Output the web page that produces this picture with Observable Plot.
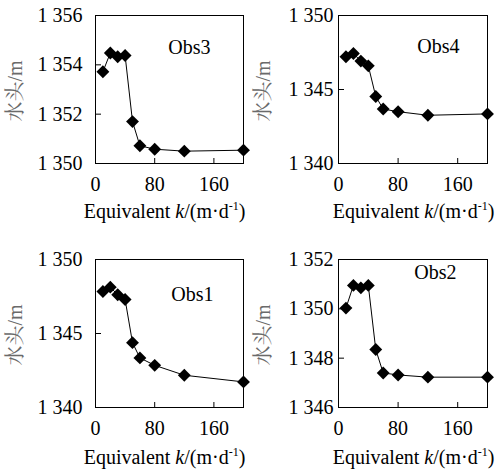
<!DOCTYPE html>
<html><head><meta charset="utf-8">
<script src="https://cdn.jsdelivr.net/npm/d3@7"></script>
<script src="https://cdn.jsdelivr.net/npm/@observablehq/plot@0.6"></script>
<style>
body{margin:0;background:#fff;}
#chart{position:relative;width:502px;height:469px;background:#fff;}
#chart svg{position:absolute;overflow:visible;}
</style></head><body><div id="chart"></div>
<script>
// ---- data ----
const kValues = [10, 20, 30, 40, 50, 60, 80, 120, 200];
const obs3 = [1353.72, 1354.48, 1354.33, 1354.38, 1351.7, 1350.72, 1350.58, 1350.5, 1350.54];
const obs4 = [1347.21, 1347.43, 1346.92, 1346.6, 1344.53, 1343.68, 1343.5, 1343.26, 1343.35];
const obs1 = [1347.84, 1348.13, 1347.62, 1347.3, 1344.38, 1343.35, 1342.85, 1342.18, 1341.73];
const obs2 = [1350.03, 1350.95, 1350.85, 1350.95, 1348.35, 1347.4, 1347.32, 1347.23, 1347.23];
const xTicks = [0, 80, 160];
const yTicks3 = [1350, 1352, 1354, 1356];
const yTicks4 = [1340, 1345, 1350];
const yTicks1 = [1340, 1345, 1350];
const yTicks2 = [1346, 1348, 1350, 1352];
const panelNames = ["Obs3", "Obs4", "Obs1", "Obs2"];
const yLabel = "水头/m";
const xLabelParts = ["Equivalent ", "k", "/(m·d", "-1", ")"];

// ---- layout ----
const serif = "'Liberation Serif', serif";
const cjkSerif = "'Liberation Serif', 'Noto Serif CJK SC', 'Noto Sans CJK SC', serif";
const fmt = d => d3.format(",")(d).replace(/,/g, " ");

const panels = [
  {name: panelNames[0], values: obs3, yTicks: yTicks3, left: 0,   top: 0,   mL: 95, mR: 8,  mT: 15, mB: 71, yPad: 19, nDx: -33, nDy: 32, ylx: 15, xlx: 164.5, xly: 218},
  {name: panelNames[1], values: obs4, yTicks: yTicks4, left: 251, top: 0,   mL: 87, mR: 15, mT: 15, mB: 71, yPad: 11, nDx: -28, nDy: 31, ylx: 12, xlx: 162.5, xly: 218},
  {name: panelNames[2], values: obs1, yTicks: yTicks1, left: 0,   top: 235, mL: 95, mR: 8,  mT: 24, mB: 62, yPad: 19, nDx: -30, nDy: 35, ylx: 15, xlx: 164.5, xly: 229},
  {name: panelNames[3], values: obs2, yTicks: yTicks2, left: 251, top: 235, mL: 87, mR: 15, mT: 24, mB: 62, yPad: 11, nDx: -31, nDy: 13.5, ylx: 12, xlx: 162.5, xly: 229}
];

const root = document.getElementById("chart");
for (const p of panels) {
  const data = kValues.map((k, i) => ({k, h: p.values[i]}));
  const W = 251, H = 234;
  const svgEl = Plot.plot({
    width: W, height: H,
    marginLeft: p.mL, marginRight: p.mR, marginTop: p.mT, marginBottom: p.mB,
    style: {fontFamily: serif, fontSize: "20px", color: "#000", background: "transparent"},
    x: {domain: [0, 200]},
    y: {domain: [p.yTicks[0], p.yTicks[p.yTicks.length - 1]]},
    marks: [
      Plot.axisX({ticks: xTicks, tickSize: -5, tickPadding: 18, tickFormat: d => String(d), label: null, fontSize: 20}),
      Plot.axisY({ticks: p.yTicks, tickSize: -6, tickPadding: p.yPad, tickFormat: fmt, label: null, fontSize: 20}),
      Plot.frame({stroke: "#000", strokeWidth: 1}),
      Plot.line(data, {x: "k", y: "h", stroke: "#000", strokeWidth: 1}),
      Plot.dot(data, {x: "k", y: "h", symbol: "diamond2", r: 5.8, fill: "#000", stroke: null}),
      Plot.text([p.name], {frameAnchor: "top-right", text: d => d, dx: p.nDx, dy: p.nDy, textAnchor: "end", lineAnchor: "middle", fontSize: 20, fill: "#000"})
    ]
  });
  svgEl.style.left = p.left + "px";
  svgEl.style.top = p.top + "px";
  const svg = d3.select(svgEl);
  // y label
  const midY = p.mT + (H - p.mT - p.mB) / 2 + 2;
  svg.append("text").attr("class", "ylab")
    .attr("transform", `translate(${p.ylx},${midY}) rotate(-90)`)
    .attr("text-anchor", "middle").attr("dy", "0.35em")
    .attr("font-size", 20).attr("fill", "#6a6a6a")
    .text(yLabel);
  // x label
  const t = svg.append("text").attr("class", "xlab")
    .attr("x", p.xlx).attr("y", p.xly)
    .attr("text-anchor", "middle")
    .attr("font-size", 20).attr("fill", "#000");
  t.append("tspan").text(xLabelParts[0]);
  t.append("tspan").attr("font-style", "italic").text(xLabelParts[1]);
  t.append("tspan").text(xLabelParts[2]);
  t.append("tspan").attr("font-size", 12).attr("dy", -8).text(xLabelParts[3]);
  t.append("tspan").attr("dy", 8).text(xLabelParts[4]);
  svg.selectAll("g").attr("font-family", null);
  svg.selectAll("text").style("font-family", serif);
  svg.selectAll("text.ylab").style("font-family", cjkSerif);
  root.appendChild(svgEl);
}
</script></body></html>
